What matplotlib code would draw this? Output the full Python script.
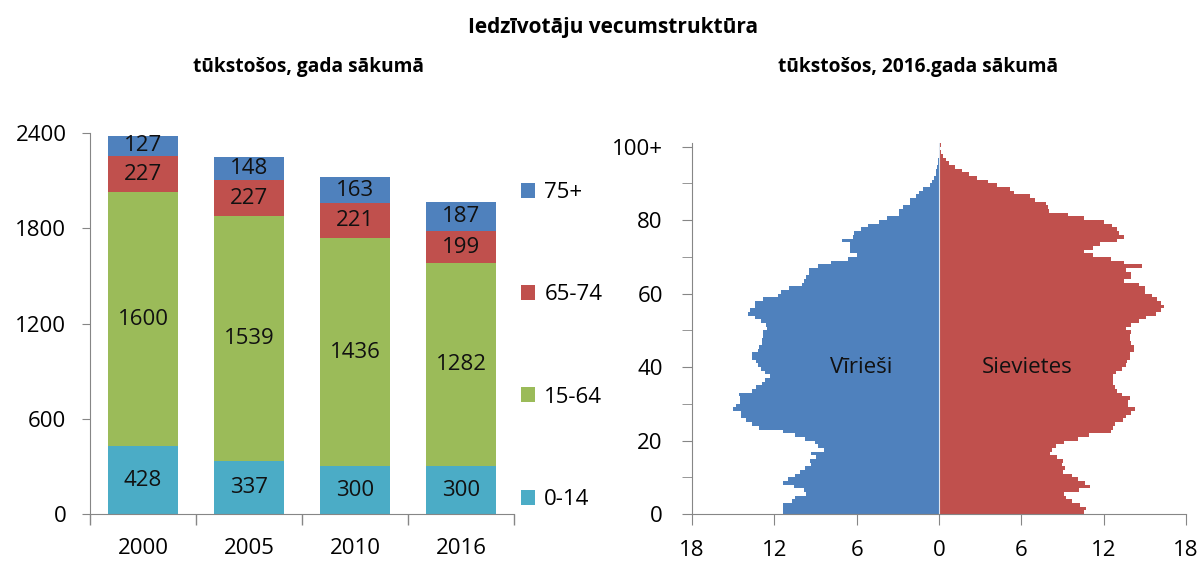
import matplotlib
matplotlib.use("Agg")
import matplotlib.pyplot as plt
import numpy as np
from matplotlib.patches import Patch

plt.rcParams['font.family'] = ['Open Sans', 'DejaVu Sans']

# left chart: population by age group, thousands
years = ["2000", "2005", "2010", "2016"]
groups = ["0-14", "15-64", "65-74", "75+"]
g0_14 = [428, 337, 300, 300]
g15_64 = [1600, 1539, 1436, 1282]
g65_74 = [227, 227, 221, 199]
g75 = [127, 148, 163, 187]
grp_colors = ["#4BACC6", "#9BBB59", "#C0504D", "#4F81BD"]

# right chart: population pyramid 2016, thousands, ages 0..100+
ages = np.arange(0, 101)
men = [11.4, 11.4, 11.4, 10.7, 10.5, 9.7, 9.85, 10.6, 11.4, 11.0,
       10.5, 10.1, 9.8, 9.3, 9.4, 9.0, 9.3, 8.4, 8.8, 9.05,
       9.8, 10.5, 11.4, 13.1, 13.6, 14.1, 14.4, 14.4, 15.0, 14.8,
       14.5, 14.5, 14.6, 13.6, 13.3, 12.9, 12.65, 12.3, 12.65, 13.0,
       13.2, 13.3, 13.6, 13.6, 13.2, 13.1, 12.9, 12.9, 12.85, 12.8,
       12.5, 12.6, 13.0, 13.4, 13.9, 13.75, 13.4, 13.4, 12.8, 11.7,
       11.5, 10.9, 10.0, 9.85, 9.7, 9.5, 9.45, 8.8, 7.9, 6.6,
       6.0, 6.45, 6.5, 6.5, 7.05, 6.3, 6.2, 5.7, 5.2, 4.4,
       3.8, 2.9, 2.9, 2.6, 2.1, 2.1, 1.7, 1.46, 1.17, 0.68,
       0.53, 0.36, 0.24, 0.2, 0.12, 0.08, 0.05, 0.03, 0.02, 0.01, 0.03]
women = [10.6, 10.7, 10.3, 9.7, 9.25, 9.1, 10.2, 11.0, 10.65, 10.1,
         9.7, 9.05, 9.2, 8.95, 9.05, 8.6, 8.1, 8.2, 8.5, 9.1,
         10.1, 10.95, 12.5, 12.65, 12.8, 13.4, 13.6, 14.0, 14.3, 13.8,
         13.75, 13.9, 13.3, 13.0, 12.8, 12.65, 12.65, 12.7, 12.9, 13.3,
         13.6, 13.7, 13.9, 13.9, 14.2, 14.2, 14.0, 13.95, 13.9, 14.0,
         13.6, 14.0, 14.6, 15.1, 15.8, 16.2, 16.4, 16.2, 15.9, 15.5,
         15.0, 15.0, 14.6, 13.5, 14.0, 14.0, 13.6, 14.8, 13.5, 12.5,
         11.2, 10.6, 11.2, 11.75, 13.0, 13.5, 13.1, 13.0, 12.6, 12.0,
         10.6, 9.4, 8.0, 7.95, 7.8, 7.0, 6.6, 5.5, 5.2, 4.25,
         3.6, 2.8, 2.2, 1.7, 1.2, 0.73, 0.49, 0.3, 0.17, 0.1, 0.15]

W, H = 1198, 561
fig = plt.figure(figsize=(W / 100, H / 100), dpi=100)
axc = "#868686"
fs = 16

def fx(px):
    return px / W

def fy(px):
    return 1 - px / H

# ---------- left: stacked bars ----------
ax1 = fig.add_axes([fx(90), fy(514), fx(514) - fx(90), fy(133) - fy(514)])
x = np.arange(len(years))
bottom = np.zeros(len(years))
for vals, col in zip([g0_14, g15_64, g65_74, g75], grp_colors):
    c = ax1.bar(x, vals, 0.66, bottom=bottom, color=col, edgecolor="none")
    ax1.bar_label(c, labels=[str(v) for v in vals], label_type="center", fontsize=fs, color="#111111")
    bottom += np.array(vals)

ax1.set_xlim(-0.5, 3.5)
ax1.set_ylim(0, 2400)
ax1.set_yticks([0, 600, 1200, 1800, 2400])
ax1.set_xticks(x)
ax1.set_xticklabels(years)
ax1.set_xticks([-0.5, 0.5, 1.5, 2.5, 3.5], minor=True)
ax1.tick_params(axis="x", which="major", length=0, pad=17, labelsize=fs)
ax1.tick_params(axis="x", which="minor", length=8, color=axc, width=1)
ax1.tick_params(axis="y", length=6, color=axc, labelsize=fs, pad=11)
for s in ["top", "right"]:
    ax1.spines[s].set_visible(False)
for s in ["left", "bottom"]:
    ax1.spines[s].set_color(axc)

handles = [Patch(facecolor=c) for c in grp_colors][::-1]
fig.legend(handles, groups[::-1], loc="upper left", bbox_to_anchor=(fx(521), fy(182)),
           frameon=False, fontsize=fs, handlelength=0.65, handleheight=0.65,
           handletextpad=0.4, labelspacing=3.66, borderpad=0, borderaxespad=0)

# ---------- right: pyramid ----------
ax2 = fig.add_axes([fx(692), fy(514), fx(1186) - fx(692), fy(143) - fy(514)])
ax2.barh(ages, -np.array(men), height=1.0, align="edge", color="#4F81BD", edgecolor="none")
ax2.barh(ages, women, height=1.0, align="edge", color="#C0504D", edgecolor="none")
ax2.axvline(0, color="#dfe6ef", lw=0.8)
ax2.set_xlim(-18, 18)
ax2.set_ylim(0, 101)
xt = [-18, -12, -6, 0, 6, 12, 18]
ax2.set_xticks(xt)
ax2.set_xticklabels([str(abs(v)) for v in xt])
ax2.set_yticks([0, 20, 40, 60, 80, 100])
ax2.set_yticklabels(["0", "20", "40", "60", "80", "100+"])
ax2.set_yticks(np.arange(10, 100, 20), minor=True)
ax2.tick_params(axis="x", length=8, color=axc, labelsize=fs, pad=11)
ax2.tick_params(axis="y", which="both", length=7, color=axc, labelsize=fs, pad=14)
for s in ["top", "right"]:
    ax2.spines[s].set_visible(False)
for s in ["left", "bottom"]:
    ax2.spines[s].set_color(axc)
ax2.text(-5.7, 40, "Vīrieši", ha="center", va="center", fontsize=fs, color="#111111")
ax2.text(6.4, 40, "Sievietes", ha="center", va="center", fontsize=fs, color="#111111")

# ---------- titles ----------
fig.text(fx(613), fy(28), "Iedzīvotāju vecumstruktūra", ha="center", va="center",
         fontsize=15, fontweight="bold")
fig.text(fx(308), fy(67), "tūkstošos, gada sākumā", ha="center", va="center",
         fontsize=13.8, fontweight="bold")
fig.text(fx(918), fy(67), "tūkstošos, 2016.gada sākumā", ha="center", va="center",
         fontsize=13.8, fontweight="bold")

fig.savefig("out.png", dpi=100)
